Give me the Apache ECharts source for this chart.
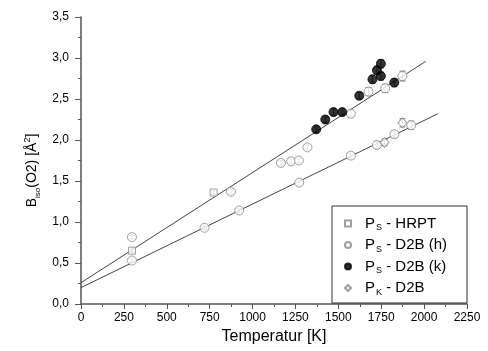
<!DOCTYPE html>
<html>
<head>
<meta charset="utf-8">
<script src="https://cdn.jsdelivr.net/npm/echarts@6/dist/echarts.min.js"></script>
<style>
html,body{margin:0;padding:0;background:#fff;}
#chart{width:488px;height:351px;}
</style>
</head>
<body>
<div id="chart"></div>
<script>
// Data
const xTicks = [0, 250, 500, 750, 1000, 1250, 1500, 1750, 2000, 2250];
const yTicks = [0, 0.5, 1.0, 1.5, 2.0, 2.5, 3.0, 3.5];

const hrptT = [297, 773];
const hrptB = [0.65, 1.36];
const hrptErr = [0.02, 0.02];

const d2bhT = [297, 874, 1165, 1225, 1270, 1320, 1573, 1676, 1773, 1874, 297, 720, 922, 1272, 1573, 1725, 1827, 1925];
const d2bhB = [0.815, 1.37, 1.72, 1.74, 1.75, 1.91, 2.32, 2.59, 2.63, 2.78, 0.53, 0.93, 1.14, 1.48, 1.81, 1.94, 2.07, 2.18];
const d2bhErr = [0.02, 0.03, 0.03, 0.03, 0.03, 0.03, 0.04, 0.05, 0.05, 0.06, 0.02, 0.02, 0.02, 0.03, 0.03, 0.04, 0.04, 0.05];

const d2bkT = [1371, 1424, 1472, 1523, 1622, 1699, 1725, 1748, 1748, 1826];
const d2bkB = [2.13, 2.25, 2.34, 2.34, 2.54, 2.74, 2.85, 2.78, 2.93, 2.70];
const d2bkErr = [0.04, 0.04, 0.04, 0.04, 0.04, 0.05, 0.05, 0.05, 0.05, 0.05];

const pkT = [1769, 1874];
const pkB = [1.97, 2.21];
const pkErr = [0.04, 0.05];

const fitUpperT = [0, 2010];
const fitUpperB = [0.26, 2.96];
const fitLowerT = [0, 2080];
const fitLowerB = [0.20, 2.32];

function pts(t, b) { return t.map((v, i) => [v, b[i]]); }
function errPts(t, b, e) { return t.map((v, i) => [v, b[i], e[i]]); }

const allErr = [].concat(
  errPts(hrptT, hrptB, hrptErr),
  errPts(d2bhT, d2bhB, d2bhErr),
  errPts(d2bkT, d2bkB, d2bkErr),
  errPts(pkT, pkB, pkErr)
);

const legendNames = {
  'HRPT': '{n|P}{s|S}{n| - HRPT}',
  'D2Bh': '{n|P}{s|S}{n| - D2B (h)}',
  'D2Bk': '{n|P}{s|S}{n| - D2B (k)}',
  'PK': '{n|P}{s|K}{n| - D2B}'
};

const chart = echarts.init(document.getElementById('chart'), null, {renderer: 'canvas'});
const axisColor = '#555';
const fontFam = 'Liberation Sans, Arial, sans-serif';

chart.setOption({
  animation: false,
  backgroundColor: '#fff',
  grid: {left: 81, right: 21, top: 17, bottom: 47, containLabel: false},
  xAxis: {
    type: 'value', min: 0, max: 2250, interval: 250,
    name: 'Temperatur [K]', nameLocation: 'middle', nameGap: 21,
    nameTextStyle: {fontSize: 16, color: '#000', fontFamily: fontFam},
    axisLine: {show: true, onZero: false, lineStyle: {color: axisColor, width: 1.5}},
    axisTick: {show: true, inside: false, length: 5, lineStyle: {color: axisColor}},
    minorTick: {show: true, splitNumber: 2, length: 3, lineStyle: {color: axisColor}},
    splitLine: {show: false},
    axisLabel: {fontSize: 12, color: '#000', margin: 8, fontFamily: fontFam,
      formatter: v => xTicks.includes(v) ? String(v) : ''}
  },
  yAxis: {
    type: 'value', min: 0, max: 3.5, interval: 0.5,
    name: '{n|B}{sub|iso}{n|(O2) [Å}{sup|2}{n|]}',
    nameLocation: 'middle', nameGap: 38, nameRotate: 90,
    nameTextStyle: {
      color: '#000', fontFamily: fontFam, padding: [0, 20, 0, 0],
      rich: {
        n: {fontSize: 14, fontFamily: fontFam, color: '#000'},
        sub: {fontSize: 8, fontFamily: fontFam, color: '#000', padding: [10, 0, 0, 0]},
        sup: {fontSize: 9, fontFamily: fontFam, color: '#000', padding: [0, 0, 10, 0]}
      }
    },
    axisLine: {show: true, onZero: false, lineStyle: {color: axisColor, width: 1.5}},
    axisTick: {show: true, inside: false, length: 6, lineStyle: {color: axisColor}},
    minorTick: {show: true, splitNumber: 2, length: 3, lineStyle: {color: axisColor}},
    splitLine: {show: false},
    axisLabel: {fontSize: 12, color: '#000', margin: 12, fontFamily: fontFam,
      formatter: v => v.toFixed(1).replace('.', ',')}
  },
  legend: {
    show: true, orient: 'vertical', left: 332, top: 206,
    data: ['HRPT', 'D2Bh', 'D2Bk', 'PK'],
    formatter: name => legendNames[name],
    itemWidth: 6, itemHeight: 6, itemGap: 5,
    padding: [10, 20, 6, 12],
    borderColor: '#333', borderWidth: 1, backgroundColor: '#fff',
    textStyle: {
      fontFamily: fontFam, color: '#000', padding: [0, 0, 0, 9],
      rich: {
        n: {fontSize: 15, fontFamily: fontFam, color: '#000', lineHeight: 16},
        s: {fontSize: 9, fontFamily: fontFam, color: '#000', padding: [9, 0, 0, 1]}
      }
    },
    selectedMode: false
  },
  series: [
    {
      type: 'custom', name: 'err', silent: true, z: 1,
      renderItem: function (params, api) {
        const x = api.value(0), y = api.value(1), e = api.value(2);
        const top = api.coord([x, y + e]);
        const bot = api.coord([x, y - e]);
        const hw = 3;
        const st = {stroke: '#777', lineWidth: 1};
        return {
          type: 'group',
          children: [
            {type: 'line', shape: {x1: top[0], y1: top[1], x2: bot[0], y2: bot[1]}, style: st},
            {type: 'line', shape: {x1: top[0] - hw, y1: top[1], x2: top[0] + hw, y2: top[1]}, style: st},
            {type: 'line', shape: {x1: bot[0] - hw, y1: bot[1], x2: bot[0] + hw, y2: bot[1]}, style: st}
          ]
        };
      },
      data: allErr
    },
    {
      type: 'line', name: 'fitU', data: pts(fitUpperT, fitUpperB), showSymbol: false, silent: true,
      lineStyle: {color: '#444', width: 1}, z: 2
    },
    {
      type: 'line', name: 'fitL', data: pts(fitLowerT, fitLowerB), showSymbol: false, silent: true,
      lineStyle: {color: '#444', width: 1}, z: 2
    },
    {
      type: 'scatter', name: 'HRPT', data: pts(hrptT, hrptB), symbol: 'rect', symbolSize: 7, z: 3,
      itemStyle: {color: '#fff', borderColor: '#888', borderWidth: 1}
    },
    {
      type: 'scatter', name: 'D2Bh', data: pts(d2bhT, d2bhB), symbol: 'circle', symbolSize: 9, z: 3,
      itemStyle: {color: '#fff', borderColor: '#888', borderWidth: 1}
    },
    {
      type: 'scatter', name: 'D2Bk', data: pts(d2bkT, d2bkB), symbol: 'circle', symbolSize: 9, z: 3,
      itemStyle: {color: '#000', borderColor: '#000', borderWidth: 1}
    },
    {
      type: 'scatter', name: 'PK', data: pts(pkT, pkB), symbol: 'diamond', symbolSize: [9, 10], z: 3,
      itemStyle: {color: '#fff', borderColor: '#888', borderWidth: 1}
    }
  ]
});
</script>
</body>
</html>
